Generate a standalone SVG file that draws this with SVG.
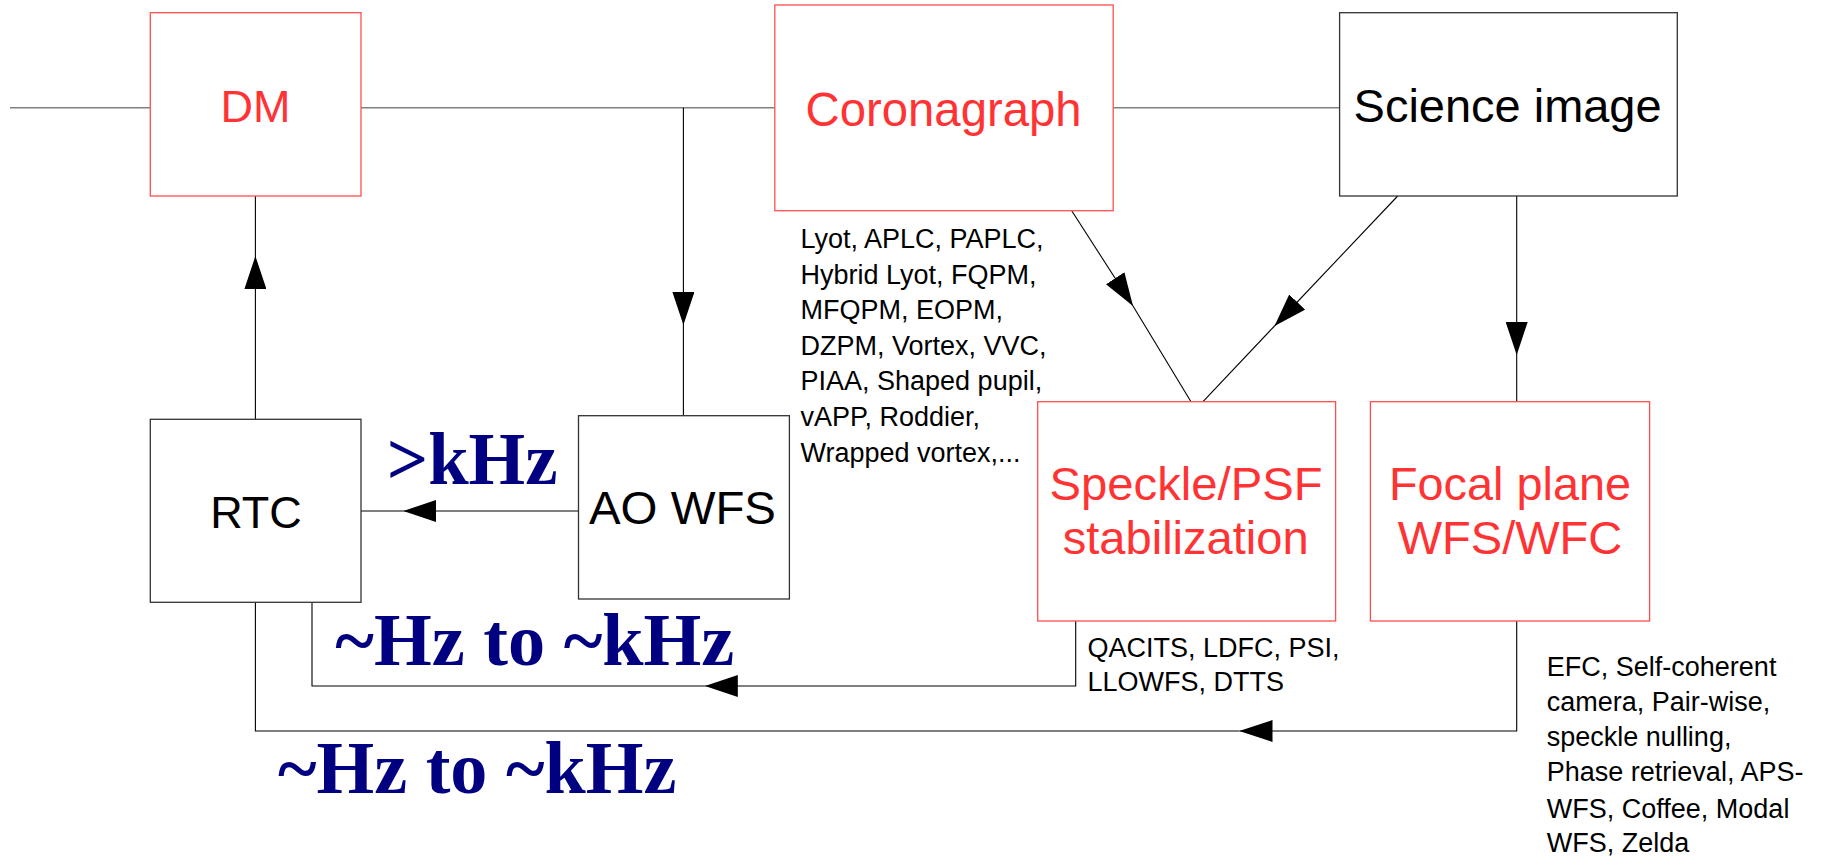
<svg xmlns="http://www.w3.org/2000/svg" width="1824" height="858" viewBox="0 0 1824 858">
<style>
.bg{fill:#fff}
.box{fill:#fff;stroke:#333;stroke-width:1.3}
.rbox{fill:#fff;stroke:#ff4d4d;stroke-width:1.3}
.lbl{font-family:"Liberation Sans",Arial,sans-serif;fill:#000;text-anchor:middle}
.rlbl{font-family:"Liberation Sans",Arial,sans-serif;fill:#ff3333;text-anchor:middle}
.note{font-family:"Liberation Sans",Arial,sans-serif;font-size:27px;fill:#000}
.freq{font-family:"Liberation Serif","Times New Roman",serif;font-weight:bold;font-size:74px;fill:#000080}
.beam{fill:none;stroke:#808080;stroke-width:1.6}
.con{fill:none;stroke:#000;stroke-width:1.1}
</style>
<defs>
<marker id="ah" markerUnits="userSpaceOnUse" viewBox="0 0 33 22" refX="33" refY="11" markerWidth="33" markerHeight="22" orient="auto">
<path d="M0,0 L33,11 L0,22 z" fill="#000"/>
</marker>
</defs>
<rect class="bg" x="0" y="0" width="1824" height="858"/>

<g id="connectors">
<path class="beam" d="M10,107.7 H150.3 M361,107.7 H774.8 M1113.2,107.7 H1339.6"/>
<path class="con" d="M255.4,419.3 V256" marker-end="url(#ah)"/>
<path class="con" d="M255.4,256 V196"/>
<path class="con" d="M683.4,107.7 V325" marker-end="url(#ah)"/>
<path class="con" d="M683.4,325 V415.7"/>
<path class="con" d="M578.5,511 H403.3" marker-end="url(#ah)"/>
<path class="con" d="M403.3,511 H361"/>
<path class="con" d="M1071.7,210.7 L1133,306" marker-end="url(#ah)"/>
<path class="con" d="M1133,306 L1191,401.7"/>
<path class="con" d="M1397.7,196 L1274.5,326" marker-end="url(#ah)"/>
<path class="con" d="M1274.5,326 L1203,401.7"/>
<path class="con" d="M1516.7,196 V355" marker-end="url(#ah)"/>
<path class="con" d="M1516.7,355 V401.7"/>
<path class="con" d="M1075.7,621 V686 H704.8" marker-end="url(#ah)"/>
<path class="con" d="M704.8,686 H312 V602.3"/>
<path class="con" d="M1516.7,621 V731 H1239.5" marker-end="url(#ah)"/>
<path class="con" d="M1239.5,731 H255.4 V602.3"/>
</g>

<g id="dm">
<rect class="rbox" x="150.3" y="12.7" width="210.7" height="183.3"/>
<text class="rlbl" x="255.5" y="121.7" font-size="45">DM</text>
</g>

<g id="coronagraph">
<rect class="rbox" x="774.8" y="5" width="338.4" height="205.7"/>
<text class="rlbl" x="943.6" y="126" font-size="47.5" textLength="276" lengthAdjust="spacingAndGlyphs">Coronagraph</text>
<text class="note" x="800.5" y="248.3">Lyot, APLC, PAPLC,</text>
<text class="note" x="800.5" y="283.8">Hybrid Lyot, FQPM,</text>
<text class="note" x="800.5" y="319.3">MFQPM, EOPM,</text>
<text class="note" x="800.5" y="354.8">DZPM, Vortex, VVC,</text>
<text class="note" x="800.5" y="390.3">PIAA, Shaped pupil,</text>
<text class="note" x="800.5" y="425.8">vAPP, Roddier,</text>
<text class="note" x="800.5" y="461.5">Wrapped vortex,...</text>
</g>

<g id="science">
<rect class="box" x="1339.6" y="12.7" width="337.7" height="183.3"/>
<text class="lbl" x="1507.6" y="121.7" font-size="47" textLength="308" lengthAdjust="spacingAndGlyphs">Science image</text>
</g>

<g id="rtc">
<rect class="box" x="150.3" y="419.3" width="210.7" height="183"/>
<text class="lbl" x="256" y="527.7" font-size="45">RTC</text>
</g>

<g id="aowfs">
<rect class="box" x="578.5" y="415.7" width="210.9" height="183.3"/>
<text class="lbl" x="682.5" y="524" font-size="47" textLength="187" lengthAdjust="spacingAndGlyphs">AO WFS</text>
</g>

<g id="speckle">
<rect class="rbox" x="1037.7" y="401.7" width="297.9" height="219.3"/>
<text class="rlbl" x="1186" y="500" font-size="47" textLength="273" lengthAdjust="spacingAndGlyphs">Speckle/PSF</text>
<text class="rlbl" x="1185.7" y="554.3" font-size="47" textLength="246" lengthAdjust="spacingAndGlyphs">stabilization</text>
<text class="note" x="1087.5" y="656.7">QACITS, LDFC, PSI,</text>
<text class="note" x="1087.5" y="691">LLOWFS, DTTS</text>
</g>

<g id="focal">
<rect class="rbox" x="1370.4" y="401.7" width="279.2" height="219.3"/>
<text class="rlbl" x="1510" y="500" font-size="47" textLength="242" lengthAdjust="spacingAndGlyphs">Focal plane</text>
<text class="rlbl" x="1510" y="554.3" font-size="47" textLength="224.6" lengthAdjust="spacingAndGlyphs">WFS/WFC</text>
<text class="note" x="1546.8" y="676">EFC, Self-coherent</text>
<text class="note" x="1546.8" y="710.7">camera, Pair-wise,</text>
<text class="note" x="1546.8" y="746">speckle nulling,</text>
<text class="note" x="1546.8" y="780.7">Phase retrieval, APS-</text>
<text class="note" x="1546.8" y="817.7">WFS, Coffee, Modal</text>
<text class="note" x="1546.8" y="852.3">WFS, Zelda</text>
</g>

<g id="rates">
<text class="freq" x="386.7" y="484.3" textLength="170.8" lengthAdjust="spacingAndGlyphs">&gt;kHz</text>
<text class="freq" x="335.3" y="665" textLength="399" lengthAdjust="spacingAndGlyphs">~Hz to ~kHz</text>
<text class="freq" x="278" y="792.7" textLength="398.3" lengthAdjust="spacingAndGlyphs">~Hz to ~kHz</text>
</g>
</svg>
